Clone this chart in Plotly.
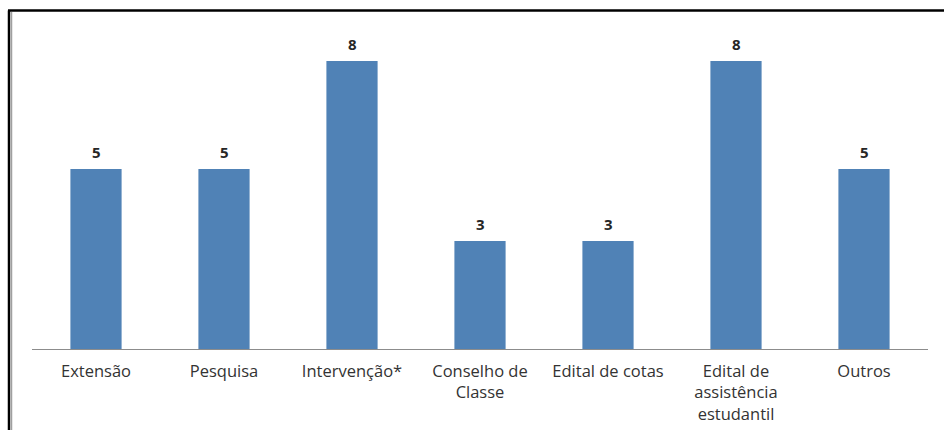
import plotly.graph_objects as go

categories = ["Extensão", "Pesquisa", "Intervenção*", "Conselho de<br>Classe",
              "Edital de cotas", "Edital de<br>assistência<br>estudantil", "Outros"]
values = [5, 5, 8, 3, 3, 8, 5]

W, H = 944, 430
L, T = 32, 25
PW, PH = 896, 324
R = W - L - PW
B = H - T - PH

FONT = "'Open Sans', 'Noto Sans', sans-serif"

fig = go.Figure(go.Bar(
    x=categories, y=values,
    marker=dict(color="#5082B6", line=dict(width=0)),
    cliponaxis=False,
    hoverinfo="skip",
))

for c, v in zip(categories, values):
    fig.add_annotation(x=c, y=v, text=f"<b>{v}</b>", showarrow=False,
                       yanchor="bottom", yshift=5,
                       font=dict(family=FONT, size=15, color="#262626"))

fig.update_layout(
    width=W, height=H,
    margin=dict(l=L, r=R, t=T, b=B, autoexpand=False),
    paper_bgcolor="white", plot_bgcolor="white",
    bargap=0.6, showlegend=False,
    font=dict(family=FONT, size=16.5, color="#333333"),
    xaxis=dict(showgrid=False, showline=True, linecolor="#8c8c8c", linewidth=1,
               automargin=False, fixedrange=True,
               ticks="", ticklabelstandoff=7, tickfont=dict(size=16.5, color="#333333")),
    yaxis=dict(range=[0, 9], visible=False, fixedrange=True),
    shapes=[
        dict(type="line", xref="paper", yref="paper",
             x0=(9 - L) / PW, x1=(9 - L) / PW, y0=(PH + T - 10.5) / PH, y1=-(B + 10) / PH,
             line=dict(color="black", width=2.5)),
        dict(type="line", xref="paper", yref="paper",
             x0=(8 - L) / PW, x1=(W + 5 - L) / PW, y0=(PH + T - 10.5) / PH, y1=(PH + T - 10.5) / PH,
             line=dict(color="black", width=2.5)),
        dict(type="line", xref="paper", yref="paper",
             x0=(11.5 - L) / PW, x1=(11.5 - L) / PW, y0=(PH + T - 12) / PH, y1=-(B + 10) / PH,
             line=dict(color="#a0a0a0", width=1.5)),
    ],
)

fig.write_html(
    "out.html",
    config={"displayModeBar": False, "staticPlot": True},
    post_script="document.body.style.margin='0';document.body.style.overflow='hidden';",
)
